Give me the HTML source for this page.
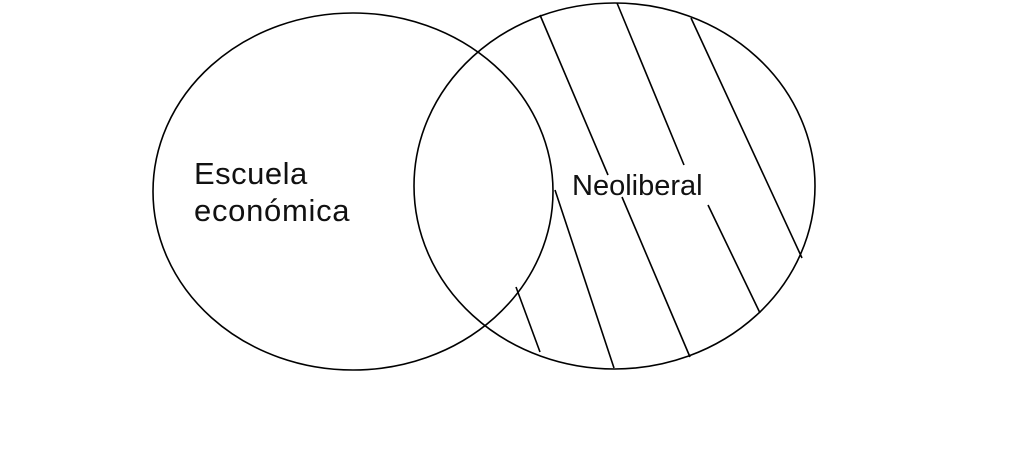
<!DOCTYPE html>
<html><head><meta charset="utf-8"><style>html,body{margin:0;padding:0;background:#fff}svg{display:block}</style></head>
<body>
<svg width="1035" height="455" viewBox="0 0 1035 455" xmlns="http://www.w3.org/2000/svg">
<rect width="1035" height="455" fill="#fff"/>
<g fill="none" stroke="#000" stroke-width="1.6">
<ellipse cx="353" cy="191.5" rx="200" ry="178.5"/>
<ellipse cx="614.5" cy="186" rx="200.5" ry="183"/>
<line x1="540" y1="15" x2="608" y2="175"/>
<line x1="555" y1="190" x2="614" y2="368"/>
<line x1="617" y1="3" x2="684" y2="165"/>
<line x1="622" y1="197" x2="690" y2="357"/>
<line x1="691" y1="18" x2="802" y2="258"/>
<line x1="708" y1="205" x2="760" y2="313"/>
<line x1="516" y1="287" x2="540" y2="352"/>
</g>
<g font-family="Liberation Sans, Arial, sans-serif" fill="#111">
<text x="194" y="184" font-size="31" letter-spacing="0.5">Escuela</text>
<text x="194" y="221" font-size="31" letter-spacing="0.7">económica</text>
<text x="572" y="195" font-size="29">Neoliberal</text>
</g>
</svg>
</body></html>
